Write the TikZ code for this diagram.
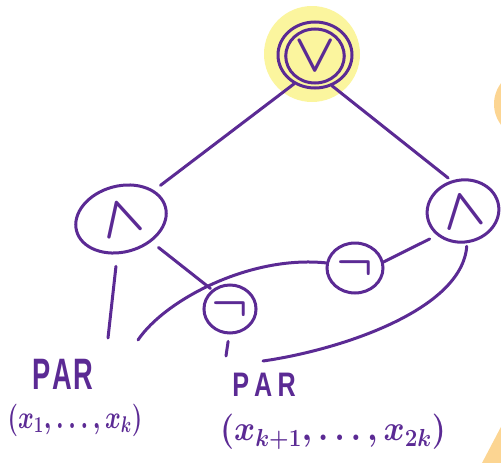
\documentclass[tikz,border=0pt]{standalone}
\usepackage{fix-cm}
\usepackage{graphicx}
\usepackage{fontspec}
\newfontfamily\handfont{Liberation Sans}
\usetikzlibrary{shapes.geometric}
\definecolor{ink}{HTML}{5B2A94}
\definecolor{glow}{HTML}{FBF59E}
\definecolor{peach}{HTML}{FCD592}
\begin{document}
\begin{tikzpicture}[x=1pt,y=-1pt,
  wire/.style={ink, line width=3pt, line cap=round},
  gate/.style={ellipse, draw=ink, line width=3pt, inner sep=0pt, text=ink},
  sym/.style={font=\fontsize{#1}{#1}\selectfont\boldmath},
  label/.style={text=ink, inner sep=0pt}]
\useasboundingbox (0,0) rectangle (501,463);

% peach marks along the right edge
\begin{scope}
  \clip (0,0) rectangle (501,463);
  \fill[peach] (532,104) ellipse [x radius=38, y radius=36];
  \fill[peach] (482,463) -- (503,423) -- (512,463) -- cycle;
\end{scope}

% highlighted output gate
\node[circle, fill=glow, minimum size=96pt, inner sep=0pt] (halo) at (312,54) {};
\node[gate, minimum width=74pt, minimum height=66pt] (orO) at (315,55) {};
\node[gate, minimum width=58pt, minimum height=54pt, sym=54] (orI) at (315,56) {$\vee$};

% AND and NOT gates
\node[gate, minimum width=92pt, minimum height=66pt, rotate=15, sym=56] (andL) at (121,219) {$\wedge$};
\node[gate, minimum width=72pt, minimum height=62pt, rotate=10, sym=56] (andR) at (463,211) {$\wedge$};
\node[gate, minimum width=52pt, minimum height=48pt, sym=48] (not1) at (230,309) {$\neg$};
\node[gate, minimum width=56pt, minimum height=50pt, sym=48] (not2) at (355,268) {$\neg$};

% PAR blocks
\node[label, font=\handfont\bfseries\fontsize{44}{44}\selectfont] (parL) at (63,374) {\scalebox{0.62}[1]{P\hspace{3pt}A\hspace{3pt}R}};
\node[label, sym=24] (argL) at (75,420) {\scalebox{1}[1.35]{$(x_1,\ldots,x_k)$}};
\node[label, font=\handfont\bfseries\fontsize{34}{34}\selectfont] (parR) at (264,385) {\scalebox{0.74}[1]{P\hspace{7pt}A\hspace{7pt}R}};
\node[label, sym=32] (argR) at (333,432) {\scalebox{1}[1.1]{$(x_{k+1},\ldots,x_{2k})$}};

% free ends of the wires that reach the PAR blocks
\coordinate (leftIn) at (108,338);
\coordinate (curveStart) at (138,340);
\coordinate (rightIn) at (263,361);
\coordinate (tickEnd) at (226,356);

% wires
\draw[wire, shorten >=8pt] (orO.234) -- (andL.26);
\draw[wire, shorten >=4pt] (orO.299) -- (andR.101);
\draw[wire, shorten <=9pt, shorten >=2pt] (andL.-52) -- (not1.133);
\draw[wire, shorten <=12pt] (andL.249) -- (leftIn);
\draw[wire] (curveStart) .. controls (165,300) and (250,255) .. (not2.170);
\draw[wire, shorten >=8pt] (not2.12) -- (andR.213);
\draw[wire, shorten <=3pt] (andR.267) .. controls (462,310) and (340,350) .. (rightIn);
\draw[wire, shorten <=7pt] (not1.268) -- (tickEnd);
\end{tikzpicture}
\end{document}
